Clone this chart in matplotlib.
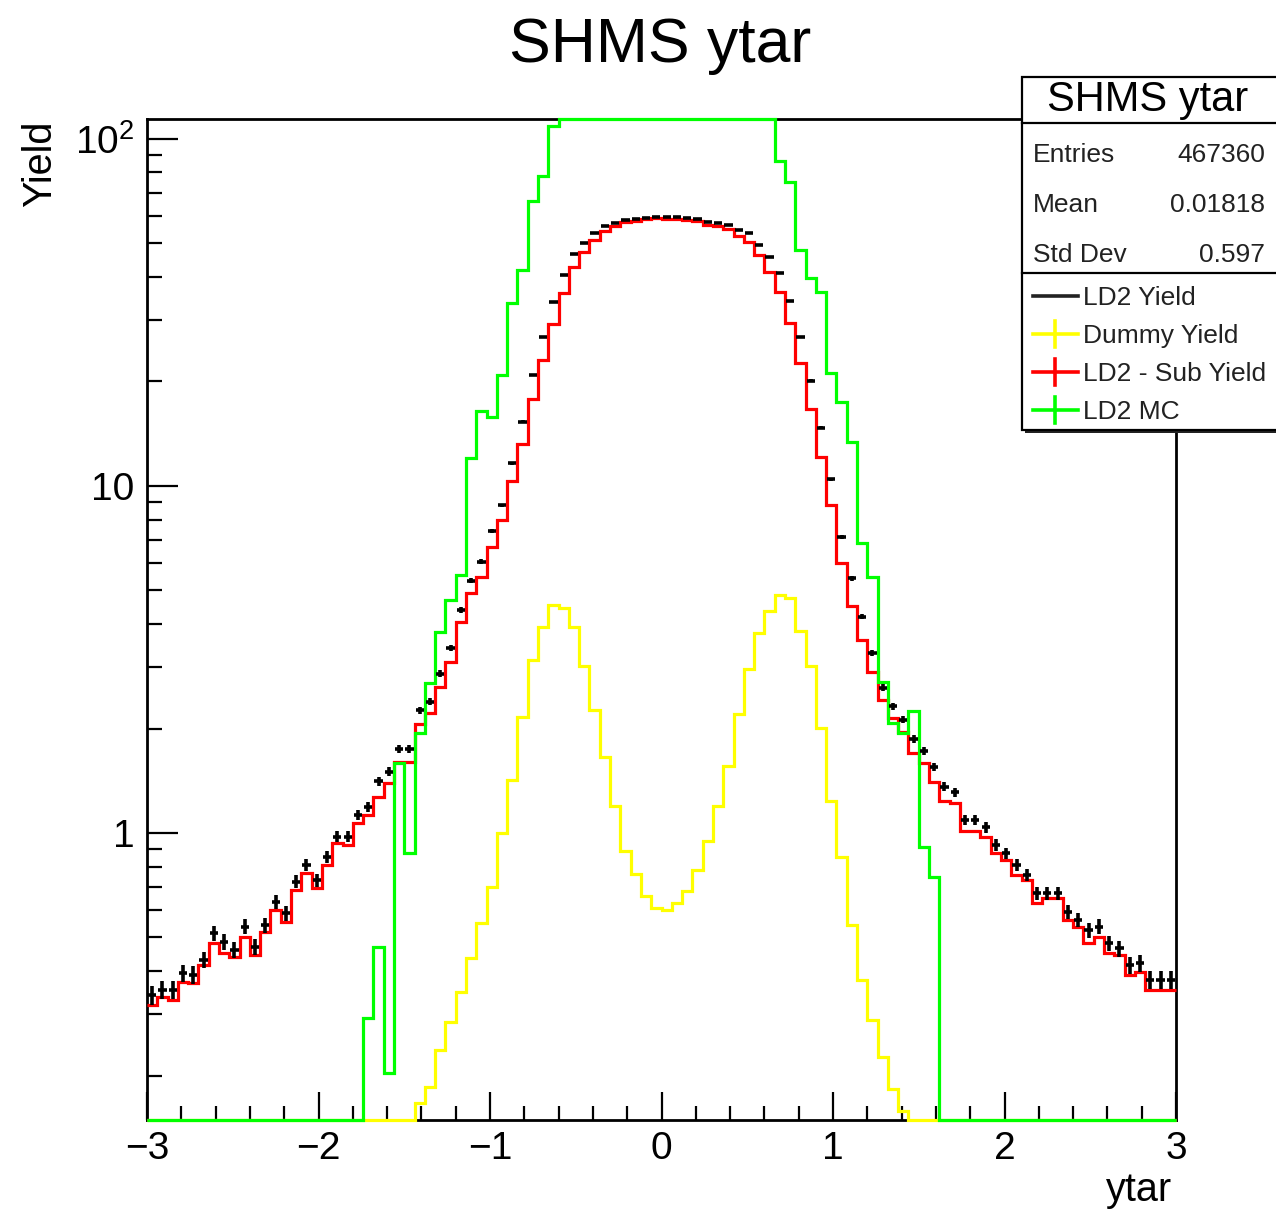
"""SHMS ytar yield comparison: LD2, dummy, dummy-subtracted LD2 and MC."""
import numpy as np
import matplotlib
matplotlib.use("Agg")
import matplotlib.pyplot as plt
from matplotlib.patches import Rectangle
from matplotlib.lines import Line2D
from matplotlib.ticker import FixedLocator, FixedFormatter

plt.rcParams["font.family"] = ["Liberation Sans", "DejaVu Sans"]
plt.rcParams["mathtext.default"] = "regular"

# 100 bins of ytar between -3 and 3
x_lo, x_hi, n_bins = -3.0, 3.0, 100
y_lo, y_hi = 0.149, 114.0

ld2_yield = [
    0.341, 0.353, 0.353, 0.394, 0.390, 0.431, 0.514, 0.486, 0.460, 0.537,
    0.470, 0.543, 0.634, 0.587, 0.724, 0.809, 0.732, 0.855, 0.976, 0.976,
    1.127, 1.19, 1.41, 1.50, 1.75, 1.75, 2.26, 2.39, 2.88, 3.41,
    4.39, 5.33, 6.05, 7.39, 8.78, 11.6, 15.3, 20.9, 26.9, 33.8,
    40.5, 46.6, 50.2, 53.5, 55.9, 57.1, 58.4, 58.8, 59.3, 59.7,
    59.5, 59.5, 59.0, 58.6, 57.6, 57.1, 56.4, 54.5, 53.5, 49.4,
    45.7, 41.0, 34.2, 26.9, 20.1, 14.7, 10.45, 7.11, 5.42, 4.2,
    3.3, 2.62, 2.32, 2.12, 1.87, 1.72, 1.55, 1.36, 1.31, 1.09,
    1.09, 1.04, 0.924, 0.874, 0.809, 0.757, 0.670, 0.670, 0.670, 0.593,
    0.562, 0.525, 0.537, 0.481, 0.465, 0.417, 0.421, 0.377, 0.377, 0.377,
]

dummy_yield = [
    0, 0, 0, 0, 0, 0, 0, 0, 0, 0,
    0, 0, 0, 0, 0, 0, 0, 0, 0, 0,
    0, 0, 0, 0, 0, 0, 0.167, 0.186, 0.237, 0.286,
    0.349, 0.435, 0.549, 0.700, 1.0, 1.42, 2.16, 3.15, 3.93, 4.55,
    4.45, 3.93, 3.02, 2.26, 1.66, 1.20, 0.89, 0.76, 0.66, 0.61,
    0.60, 0.63, 0.68, 0.78, 0.95, 1.20, 1.56, 2.20, 2.96, 3.77,
    4.37, 4.85, 4.75, 3.81, 3.03, 2.01, 1.24, 0.85, 0.542, 0.376,
    0.289, 0.227, 0.183, 0.158, 0, 0, 0, 0, 0, 0,
    0, 0, 0, 0, 0, 0, 0, 0, 0, 0,
    0, 0, 0, 0, 0, 0, 0, 0, 0, 0,
]

sub_yield = [
    0.319, 0.338, 0.330, 0.373, 0.369, 0.417, 0.481, 0.450, 0.440, 0.503,
    0.445, 0.519, 0.600, 0.555, 0.685, 0.765, 0.693, 0.809, 0.934, 0.923,
    1.066, 1.127, 1.272, 1.391, 1.60, 1.60, 2.06, 2.21, 2.64, 3.11,
    4.05, 4.92, 5.48, 6.68, 7.95, 10.3, 13.2, 17.8, 23.0, 29.3,
    36.0, 42.7, 47.2, 51.2, 54.2, 55.9, 57.5, 58.1, 58.6, 59.1,
    58.9, 58.9, 58.3, 57.8, 56.6, 55.9, 54.8, 52.3, 50.5, 46.2,
    41.4, 36.3, 29.4, 22.6, 16.6, 12.1, 8.8, 6.0, 4.5, 3.6,
    2.9, 2.42, 2.14, 1.95, 1.70, 1.59, 1.40, 1.24, 1.22, 1.01,
    1.01, 0.976, 0.874, 0.836, 0.757, 0.732, 0.627, 0.648, 0.648, 0.562,
    0.537, 0.481, 0.503, 0.450, 0.445, 0.390, 0.398, 0.353, 0.353, 0.353,
]

mc_yield = [
    0, 0, 0, 0, 0, 0, 0, 0, 0, 0,
    0, 0, 0, 0, 0, 0, 0, 0, 0, 0,
    0, 0.293, 0.469, 0.203, 1.588, 0.876, 1.94, 2.70, 3.80, 4.69,
    5.54, 12.0, 16.4, 15.8, 20.9, 33.6, 41.9, 66.0, 77.9, 109.0,
    128.0, 142.0, 155.0, 164.0, 170.0, 174.0, 177.0, 178.0, 179.0, 180.0,
    180.0, 179.0, 178.0, 176.0, 173.0, 168.0, 161.0, 152.0, 140.0, 126.0,
    118.0, 86.0, 75.3, 47.9, 39.7, 36.3, 21.1, 17.5, 13.4, 6.84,
    5.45, 2.72, 2.07, 1.94, 2.24, 0.913, 0.748, 0, 0, 0,
    0, 0, 0, 0, 0, 0, 0, 0, 0, 0,
    0, 0, 0, 0, 0, 0, 0, 0, 0, 0,
]

stats_rows = [("Entries", "467360"), ("Mean", "0.01818"), ("Std Dev", "0.597")]
legend_rows = [("LD2 Yield", "#222222"), ("Dummy Yield", "#ffff00"),
               ("LD2 - Sub Yield", "#ff0000"), ("LD2 MC", "#00ff00")]

# yield per event, used for the Poisson error bars on LD2
event_weight = 0.0013

W, H = 1276, 1210


def fx(px):
    return px / W


def fy(py):
    return 1.0 - py / H


edges = np.linspace(x_lo, x_hi, n_bins + 1)
centers = 0.5 * (edges[:-1] + edges[1:])

fig = plt.figure(figsize=(W / 100, H / 100), dpi=100)
fig.patch.set_facecolor("white")
ax = fig.add_axes([fx(147), fy(1120), fx(1176) - fx(147), fy(119) - fy(1120)])
ax.set_yscale("log")
ax.set_xlim(x_lo, x_hi)
ax.set_ylim(y_lo, y_hi)

# ROOT-style: empty bins sit on the frame, overflow is cut at the top
for vals, color, z in ((sub_yield, "#ff0000", 3), (dummy_yield, "#ffff00", 2),
                       (mc_yield, "#00ff00", 4)):
    v = np.clip(np.asarray(vals, dtype=float), y_lo, y_hi)
    ax.stairs(v, edges, baseline=None, color=color, linewidth=2.3,
              zorder=z, clip_on=False)

ld2 = np.asarray(ld2_yield)
ax.errorbar(centers, ld2, yerr=np.sqrt(ld2 * event_weight), xerr=0.024,
            fmt="none", ecolor="black", elinewidth=2.6, capsize=0, zorder=5)

for side in ("left", "bottom", "top", "right"):
    ax.spines[side].set_linewidth(2.0)
    ax.spines[side].set_zorder(1)

ax.xaxis.set_major_locator(FixedLocator([-3, -2, -1, 0, 1, 2, 3]))
ax.xaxis.set_minor_locator(FixedLocator(
    [t / 5 for t in range(-15, 16) if t % 5 != 0]))
ax.yaxis.set_major_locator(FixedLocator([1, 10, 100]))
ax.yaxis.set_major_formatter(FixedFormatter(["1", "10", "$10^{2}$"]))
ax.yaxis.set_minor_locator(FixedLocator(
    [m * d for d in (0.1, 1, 10) for m in range(2, 10)]))
ax.yaxis.set_minor_formatter(FixedFormatter([""] * 24))

ax.tick_params(which="both", direction="in", top=False, right=False,
               labelsize=28, width=1.6, colors="black")
ax.tick_params(axis="x", which="major", length=20, pad=8)
ax.tick_params(axis="x", which="minor", length=10)
ax.tick_params(axis="y", which="major", length=22, pad=9)
ax.tick_params(axis="y", which="minor", length=11)

fig.text(fx(660), fy(62), "SHMS ytar", ha="center", va="baseline", fontsize=45)
fig.text(fx(1172), fy(1190), "ytar", ha="right", va="center", fontsize=28.5)
fig.text(fx(40), fy(164), "Yield", ha="center", va="center", rotation=90,
         fontsize=28.5)

# stats box with the legend underneath
box_l, box_r, box_t, box_b = 1022, 1300, 77, 430
fig.add_artist(Rectangle((fx(box_l + 3), fy(box_b + 3)), fx(box_r) - fx(box_l),
                         fy(box_t) - fy(box_b), transform=fig.transFigure,
                         facecolor="#222222", edgecolor="none", zorder=10))
fig.add_artist(Rectangle((fx(box_l), fy(box_b)), fx(box_r) - fx(box_l),
                         fy(box_t) - fy(box_b), transform=fig.transFigure,
                         facecolor="white", edgecolor="black", linewidth=1.6,
                         zorder=11))
for py in (123, 273):
    fig.add_artist(Line2D([fx(box_l), fx(box_r)], [fy(py), fy(py)],
                          transform=fig.transFigure, color="black",
                          linewidth=1.6, zorder=12))

fig.text(fx(1148), fy(111), "SHMS ytar", ha="center", va="baseline",
         fontsize=30, zorder=13)
for i, (name, value) in enumerate(stats_rows):
    base = 162 + 50 * i
    fig.text(fx(1033), fy(base), name, ha="left", va="baseline",
             fontsize=19, color="#222222", zorder=13)
    fig.text(fx(1265), fy(base), value, ha="right", va="baseline",
             fontsize=19, color="#222222", zorder=13)

for i, (label, color) in enumerate(legend_rows):
    base = 305 + 38 * i
    mid = base - 9
    fig.add_artist(Line2D([fx(1033), fx(1078)], [fy(mid), fy(mid)],
                          transform=fig.transFigure, color=color,
                          linewidth=2.6, zorder=13))
    if i > 0:
        fig.add_artist(Line2D([fx(1055), fx(1055)], [fy(mid - 13), fy(mid + 13)],
                              transform=fig.transFigure, color=color,
                              linewidth=2.6, zorder=13))
    fig.text(fx(1083), fy(base), label, ha="left", va="baseline",
             fontsize=19, color="#222222", zorder=13)

fig.savefig("out.png", dpi=100, facecolor="white")
